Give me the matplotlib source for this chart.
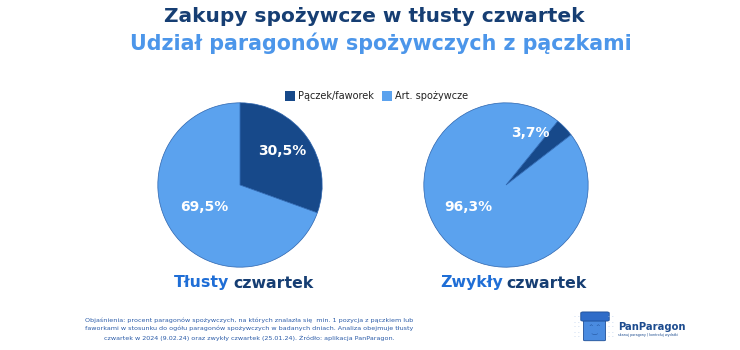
import matplotlib.pyplot as plt
from matplotlib.patches import FancyBboxPatch, Rectangle

# dane
categories = ["Pączek/faworek", "Art. spożywcze"]
tlusty = [30.5, 69.5]
zwykly = [3.7, 96.3]
labels_tlusty = ["30,5%", "69,5%"]
labels_zwykly = ["3,7%", "96,3%"]

dark = "#17498A"
light = "#5BA2EE"
navy = "#163E73"
sky = "#4C96EA"
bright = "#1F6ED6"

plt.rcParams['font.family'] = ['DejaVu Sans']

W, H = 740, 350
fig = plt.figure(figsize=(7.4, 3.5), dpi=100)
fig.patch.set_facecolor("white")


def fx(x):
    return x / W


def fy(y):
    return 1 - y / H


fig.text(fx(374), fy(17), "Zakupy spożywcze w tłusty czwartek", ha="center", va="center",
         fontsize=14.5, fontweight="bold", color=navy)
fig.text(fx(381), fy(43), "Udział paragonów spożywczych z pączkami", ha="center", va="center",
         fontsize=14.9, fontweight="bold", color=sky)


def draw_pie(cx, vals, start, labels, lab_pos):
    r = 83
    ax = fig.add_axes([fx(cx - r), fy(185 + r), 2 * r / W, 2 * r / H])
    ax.pie(vals, colors=[dark, light], startangle=start, counterclock=False,
           wedgeprops=dict(linewidth=0.5, edgecolor="#2C64AE"))
    ax.set_xlim(-1.01, 1.01)
    ax.set_ylim(-1.01, 1.01)
    ax.set_aspect("equal")
    ax.axis("off")
    for lab, (x, y) in zip(labels, lab_pos):
        ax.text(x, y, lab, ha="center", va="center", color="white",
                fontsize=10, fontweight="bold")
    return ax


draw_pie(240, tlusty, 90, labels_tlusty, [(0.52, 0.41), (-0.43, -0.27)])
draw_pie(506, zwykly, 90 - 39, labels_zwykly, [(0.30, 0.63), (-0.46, -0.27)])

# legenda
for x0, lab in zip([285, 382], categories):
    fig.patches.append(Rectangle((fx(x0), fy(101)), 10 / W, 10 / H, transform=fig.transFigure,
                                 facecolor=dark if lab == categories[0] else light, edgecolor="none"))
    fig.text(fx(x0 + 13), fy(96), lab, ha="left", va="center", fontsize=7, color="#222222")


# podpisy pod wykresami
def two_tone(x0, first, second):
    t = fig.text(fx(x0), fy(283), first, ha="left", va="center", fontsize=11.3,
                 fontweight="bold", color=bright)
    fig.canvas.draw()
    bb = t.get_window_extent()
    fig.text((bb.x1 + 4) / W, fy(283), second, ha="left", va="center", fontsize=11.3,
             fontweight="bold", color=navy)


two_tone(174, "Tłusty", "czwartek")
two_tone(440, "Zwykły", "czwartek")

# objaśnienie
note = ("Objaśnienia: procent paragonów spożywczych, na których znalazła się  min. 1 pozycja z pączkiem lub\n"
        "faworkami w stosunku do ogółu paragonów spożywczych w badanych dniach. Analiza obejmuje tłusty\n"
        "czwartek w 2024 (9.02.24) oraz zwykły czwartek (25.01.24). Źródło: aplikacja PanParagon.")
fig.text(fx(249), fy(329), note, ha="center", va="center", fontsize=4.55, color="#2A5BA8",
         linespacing=1.65)

# logo
fig.patches.append(FancyBboxPatch((fx(585), fy(340)), 19 / W, 22 / H, transform=fig.transFigure,
                                  boxstyle="round,pad=0.002", facecolor="#4A8BE0", edgecolor="#1E4E96",
                                  linewidth=0.6))
fig.patches.append(FancyBboxPatch((fx(583), fy(320)), 24 / W, 7 / H, transform=fig.transFigure,
                                  boxstyle="round,pad=0.003", facecolor="#2F6CC8", edgecolor="#1E4E96",
                                  linewidth=0.6))
for ex in [591, 598]:
    fig.text(fx(ex), fy(326), "^", ha="center", va="center", fontsize=4, color="#1E4E96")
fig.text(fx(594.5), fy(332), "‿", ha="center", va="center", fontsize=5, color="#1E4E96")
for yy in [317, 322, 327, 332, 337]:
    fig.text(fx(577), fy(yy), "- -", ha="center", va="center", fontsize=4, color="#B5CBEA")
    fig.text(fx(611), fy(yy), "- -", ha="center", va="center", fontsize=4, color="#B5CBEA")
fig.text(fx(618), fy(327), "PanParagon", ha="left", va="center", fontsize=7.2,
         fontweight="bold", color="#1D4C8F")
fig.text(fx(618), fy(335), "skanuj paragony | kontroluj wydatki", ha="left", va="center",
         fontsize=2.4, color="#1D4C8F")

fig.savefig("out.png", dpi=100, facecolor="white")
